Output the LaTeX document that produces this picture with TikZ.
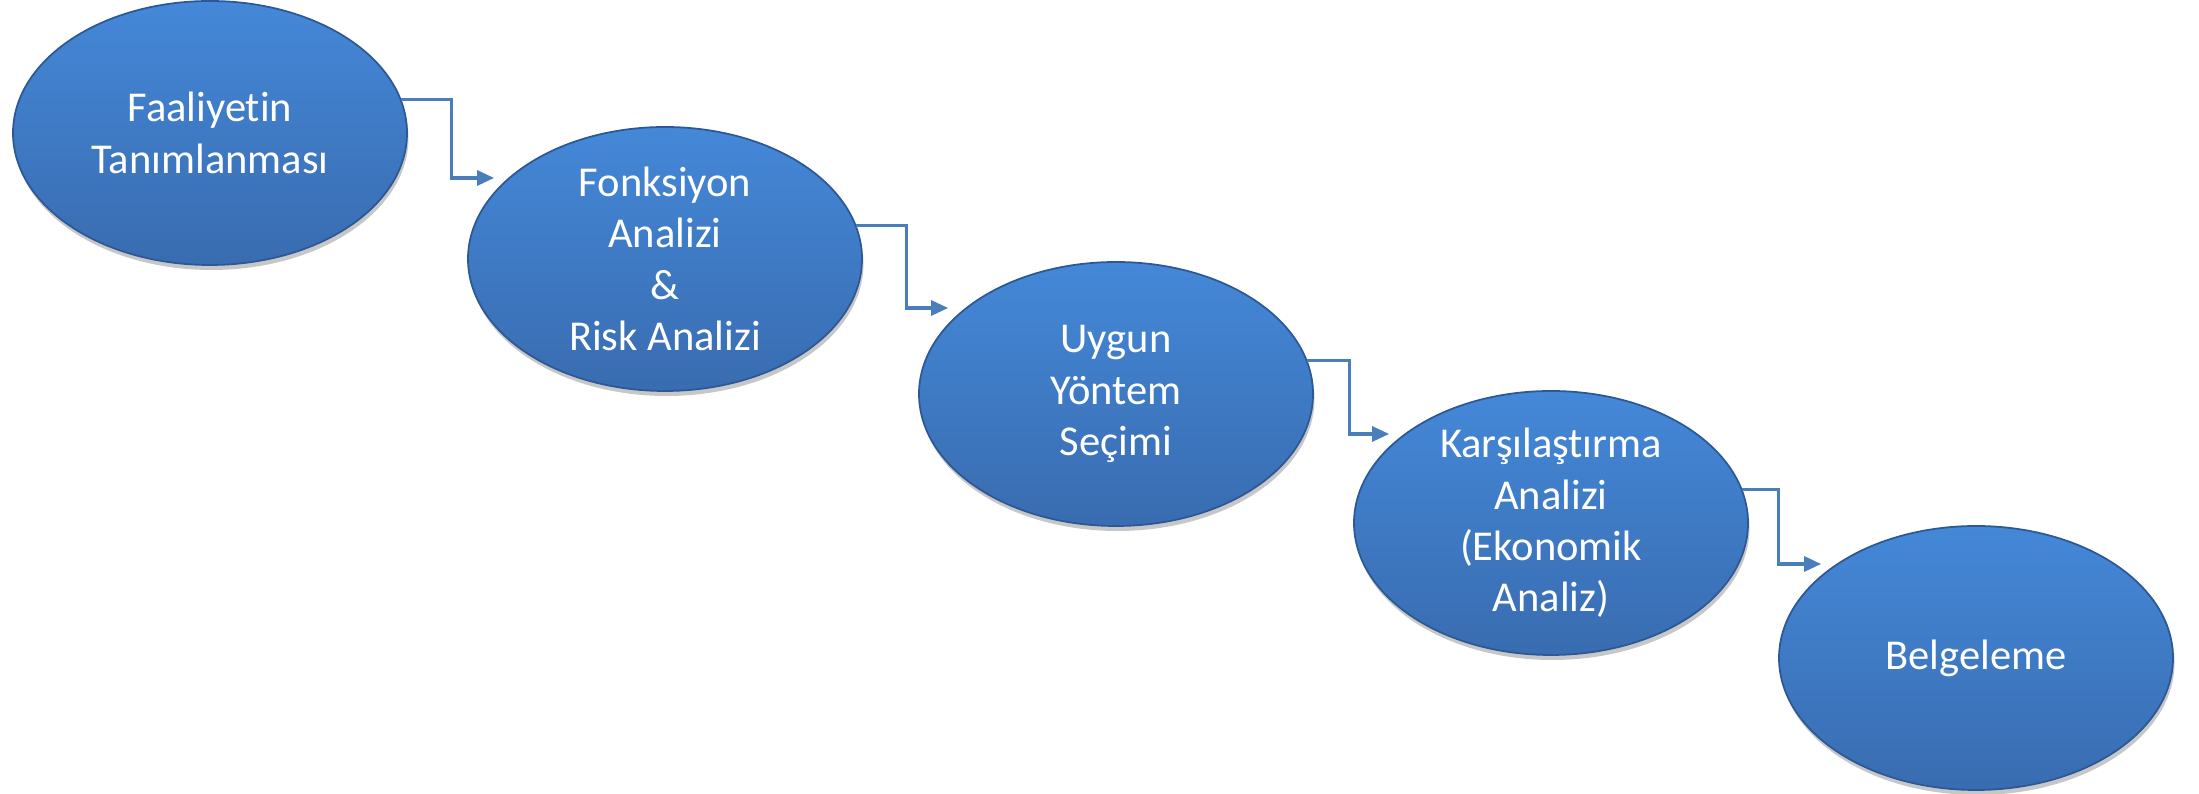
\documentclass[tikz,border=0pt]{standalone}
\usepackage{fontspec}
\setmainfont{Carlito}[Ligatures=NoCommon]
\usetikzlibrary{shapes.geometric,shadows,arrows.meta}
\definecolor{stagetop}{RGB}{68,136,216}
\definecolor{stagebot}{RGB}{57,108,176}
\definecolor{stagerim}{RGB}{45,88,150}
\definecolor{linkblue}{RGB}{74,126,187}
\tikzset{>={Triangle[length=1.7mm,width=1.5mm]}}
\tikzset{
  stage/.style={ellipse,minimum width=3.94cm,minimum height=2.64cm,inner sep=0pt,
    top color=stagetop,bottom color=stagebot,draw=stagerim,line width=0.5pt,
    drop shadow={shadow xshift=0.15mm,shadow yshift=-0.5mm,opacity=0.22,fill=black}},
  stagetext/.style={text=white,align=center,font=\fontsize{12.1}{14.6}\selectfont},
  link/.style={linkblue,line width=0.9pt,->}
}

\begin{document}
\begin{tikzpicture}
       \useasboundingbox (0,0) rectangle (21.99,7.94);
       \node[stage,label={[stagetext]center:Faaliyetin\\Tanımlanması}] at (2.10, 6.61) (act) {};
       \node[stage,label={[stagetext]center:Fonksiyon\\Analizi\\\&\\Risk Analizi}] at (6.65, 5.35) (func) {};
       \node[stage,label={[stagetext]center:Uygun\\Yöntem\\Seçimi}] at (11.16, 4.00) (meth) {};
       \node[stage,label={[stagetext]center:Karşılaştırma\\Analizi\\(Ekonomik\\Analiz)}] at (15.51, 2.71) (comp) {};
       \node[stage,label={[stagetext]center:Belgeleme}] at (19.76, 1.36) (doc) {};
     \draw[link] (act.10) -- ++(0.50,0) |- ([shift={(0.27,0.81)}]func.west);
     \draw[link] (func.10) -- ++(0.50,0) |- ([shift={(0.30,0.86)}]meth.west);
     \draw[link] (meth.10) -- ++(0.42,0) |- ([shift={(0.36,0.89)}]comp.west);
     \draw[link] (comp.10) -- ++(0.36,0) |- ([shift={(0.43,0.94)}]doc.west);
     \end{tikzpicture}
\end{document}
